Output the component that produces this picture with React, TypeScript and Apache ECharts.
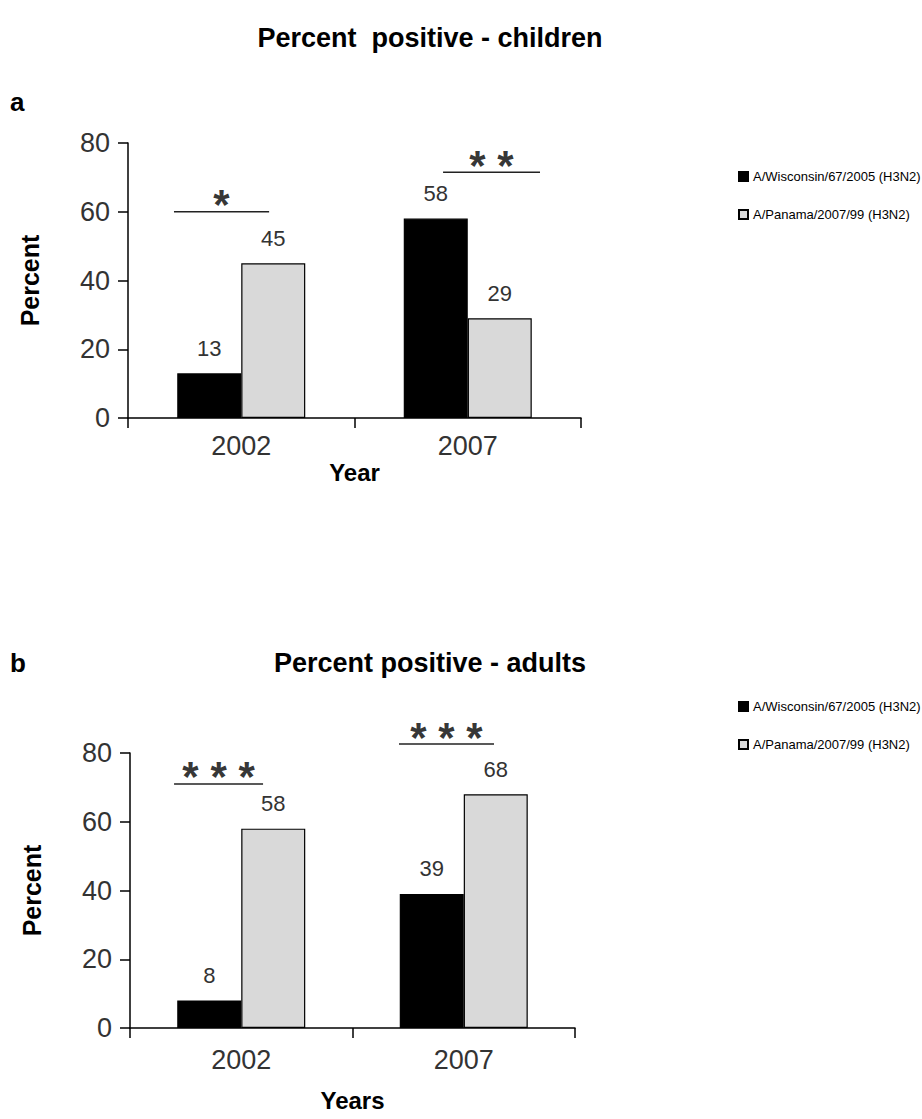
import React, { useEffect, useRef } from "react";
import * as echarts from "echarts";

const categories = ["2002", "2007"];
const seriesNames = ["A/Wisconsin/67/2005 (H3N2)", "A/Panama/2007/99 (H3N2)"];
const childrenWisconsin = [13, 58];
const childrenPanama = [45, 29];
const adultsWisconsin = [8, 39];
const adultsPanama = [58, 68];

// significance bars: [xStart, xEnd] on a 0..2 category span, y in percent, stars text
const childrenSig = [
  { x: [0.203, 0.623], y: 60, stars: "*" },
  { x: [1.391, 1.819], y: 71.5, stars: "* *" },
];
const adultsSig = [
  { x: [0.198, 0.598], y: 71, stars: "* * *" },
  { x: [1.209, 1.636], y: 82.6, stars: "* * *" },
];

const FONT = "Liberation Sans, Arial, sans-serif";
const BLACK = "#000000";
const GREY = "#d9d9d9";

function buildOption() {
  const grids = [
    { left: 128, top: 143, right: 341, height: 275 },
    { left: 130, top: 753, right: 347, height: 275 },
  ];
  const xNames = ["Year", "Years"];
  const xNameGaps = [42, 60];
  const xLabelMargins = [14, 18];

  const xAxes: any[] = grids.map((_, i) => ({
    type: "category",
    gridIndex: i,
    data: categories,
    name: xNames[i],
    nameLocation: "middle",
    nameGap: xNameGaps[i],
    nameTextStyle: { fontFamily: FONT, fontWeight: "bold", fontSize: 24, color: "#000" },
    axisLine: { lineStyle: { color: "#000", width: 1.5 } },
    axisTick: { show: true, length: 10, lineStyle: { color: "#000", width: 1.5 } },
    axisLabel: { fontFamily: FONT, fontSize: 27, color: "#333", margin: xLabelMargins[i] },
    splitLine: { show: false },
  }));
  // hidden value axes for annotation placement
  grids.forEach((_, i) => {
    xAxes.push({
      type: "value",
      gridIndex: i,
      min: 0,
      max: 2,
      show: false,
      splitLine: { show: false },
    });
  });

  const yAxes: any[] = grids.map((_, i) => ({
    type: "value",
    gridIndex: i,
    min: 0,
    max: 80,
    interval: 20,
    name: "Percent",
    nameLocation: "middle",
    nameGap: 86,
    nameTextStyle: { fontFamily: FONT, fontWeight: "bold", fontSize: 25, color: "#000" },
    axisLine: { show: true, lineStyle: { color: "#000", width: 1.5 } },
    axisTick: { show: true, length: 10, lineStyle: { color: "#000", width: 1.5 } },
    axisLabel: { fontFamily: FONT, fontSize: 27, color: "#333", margin: 18 },
    splitLine: { show: false },
  }));

  const barData = [
    [childrenWisconsin, childrenPanama],
    [adultsWisconsin, adultsPanama],
  ];
  const colors = [BLACK, GREY];

  const series: any[] = [];
  barData.forEach((pair, gi) => {
    pair.forEach((vals, si) => {
      series.push({
        type: "bar",
        name: seriesNames[si],
        xAxisIndex: gi,
        yAxisIndex: gi,
        data: vals,
        barWidth: 64,
        barGap: "0%",
        itemStyle: { color: colors[si], borderColor: "#000", borderWidth: 1.2 },
        label: {
          show: true,
          position: "top",
          distance: 14,
          fontFamily: FONT,
          fontSize: 22,
          color: "#333",
        },
        silent: true,
      });
    });
  });

  [childrenSig, adultsSig].forEach((sigs, gi) => {
    sigs.forEach((s) => {
      series.push({
        type: "line",
        xAxisIndex: 2 + gi,
        yAxisIndex: gi,
        data: [
          [s.x[0], s.y],
          [s.x[1], s.y],
        ],
        symbol: "none",
        clip: false,
        silent: true,
        lineStyle: { color: "#222", width: 1.5 },
      });
      series.push({
        type: "scatter",
        xAxisIndex: 2 + gi,
        yAxisIndex: gi,
        data: [[(s.x[0] + s.x[1]) / 2, s.y]],
        symbolSize: 1,
        itemStyle: { color: "rgba(0,0,0,0)" },
        clip: false,
        silent: true,
        label: {
          show: true,
          position: "inside",
          offset: [0, -7],
          formatter: () => s.stars,
          fontFamily: FONT,
          fontWeight: "bold",
          fontSize: 42,
          color: "#000",
        },
      });
    });
  });

  const legendBase = {
    orient: "vertical",
    left: 733,
    itemWidth: 9,
    itemHeight: 9,
    itemGap: 25,
    icon: "rect",
    selectedMode: false,
    data: seriesNames,
    textStyle: { fontFamily: FONT, fontSize: 13, color: "#000" },
  };

  return {
    animation: false,
    backgroundColor: "#ffffff",
    grid: grids,
    xAxis: xAxes,
    yAxis: yAxes,
    legend: [
      { ...legendBase, top: 165 },
      { ...legendBase, top: 695 },
    ],
    series,
    graphic: [
      {
        type: "text",
        x: 430,
        y: 38,
        style: {
          text: "Percent  positive - children",
          textAlign: "center",
          textVerticalAlign: "middle",
          font: `bold 27px ${FONT}`,
          fill: "#000",
        },
      },
      {
        type: "text",
        x: 430,
        y: 663,
        style: {
          text: "Percent positive - adults",
          textAlign: "center",
          textVerticalAlign: "middle",
          font: `bold 27px ${FONT}`,
          fill: "#000",
        },
      },
      {
        type: "text",
        x: 10,
        y: 102,
        style: { text: "a", textVerticalAlign: "middle", font: `bold 26px ${FONT}`, fill: "#000" },
      },
      {
        type: "text",
        x: 10,
        y: 663,
        style: { text: "b", textVerticalAlign: "middle", font: `bold 26px ${FONT}`, fill: "#000" },
      },
    ],
  };
}

export default function App() {
  const ref = useRef<HTMLDivElement>(null);
  useEffect(() => {
    if (!ref.current) return;
    const chart = echarts.init(ref.current, undefined, { renderer: "svg" });
    chart.setOption(buildOption() as any);
    return () => chart.dispose();
  }, []);
  return (
    <div
      ref={ref}
      style={{ position: "absolute", left: 0, top: 0, width: 922, height: 1119, background: "#fff" }}
    />
  );
}
